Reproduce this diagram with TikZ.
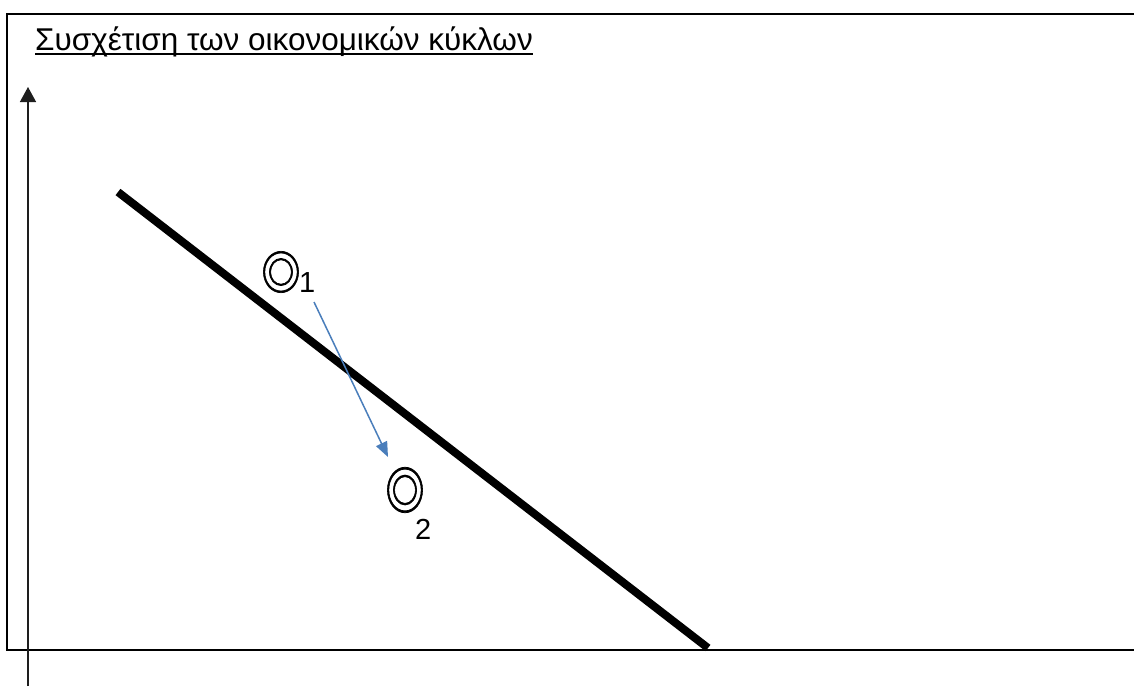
\documentclass[tikz,border=0pt]{standalone}
\usepackage{fontspec}
\setmainfont{Liberation Sans}
\newfontfamily\cjk{Noto Sans CJK SC}[RawFeature={embolden=1.5}]
\usetikzlibrary{arrows.meta}
\definecolor{arrowblue}{RGB}{74,126,187}
\definecolor{axisgray}{RGB}{30,30,30}
\tikzset{
  framebox/.style={line width=2pt,black},
  axisline/.style={line width=1.3pt,axisgray},
  curveline/.style={line width=8pt,black},
  movearrow/.style={line width=1.5pt,arrowblue,-{Triangle[length=15pt,width=12pt]}},
  titletext/.style={inner sep=0pt,anchor=base west,font=\fontsize{31.5}{36}\selectfont},
  subtext/.style={inner sep=0pt,anchor=base west,font=\fontsize{29}{34}\selectfont},
  pointmark/.style={inner sep=0pt,anchor=center}
}
\begin{document}
\begin{tikzpicture}[x=1pt,y=-1pt]
\useasboundingbox[fill=white] (0,0) rectangle (1134,686);
% frame (open on the right, runs beyond the image)
\draw[framebox] (1134,14) -- (7,14) -- (7,650) -- (1134,650);
% title
\node[titletext] (title) at (35,50) {Συσχέτιση των οικονομικών κύκλων};
\draw[line width=2pt] ([yshift=-3.5pt]title.base west) -- ([yshift=-3.5pt]title.base east);
% vertical axis
\coordinate (ybot) at (28,686);
\coordinate (ytop) at (28,87);
\draw[axisline,-{Triangle[length=15pt,width=16pt]}] (ybot) -- (ytop);
% thick line
\coordinate (l1) at (118,192);
\coordinate (l2) at (708,648);
\draw[curveline] (l1) -- (l2);
% points
\node[pointmark] (p1) at (281,272) {\scalebox{0.85}[1]{\cjk\fontsize{46}{46}\selectfont ◎}};
\node[subtext] (s1) at (299,292) {1};
\node[pointmark] (p2) at (405,490) {\scalebox{0.85}[1.1]{\cjk\fontsize{46}{46}\selectfont ◎}};
\node[subtext] (s2) at (415,539) {2};
% movement arrow
\coordinate (a1) at (314,302);
\coordinate (a2) at (388,457);
\draw[movearrow] (a1) -- (a2);
\end{tikzpicture}
\end{document}
